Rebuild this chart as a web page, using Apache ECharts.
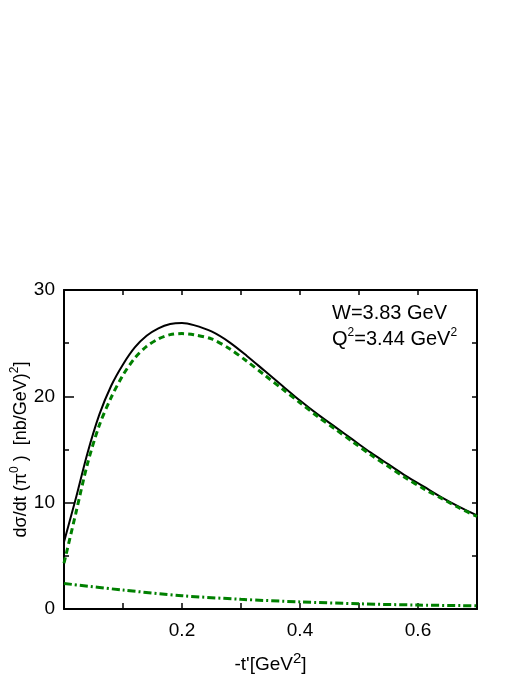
<!DOCTYPE html>
<html>
<head>
<meta charset="utf-8">
<script src="https://cdn.jsdelivr.net/npm/echarts@6/dist/echarts.min.js"></script>
<style>
    html, body { margin: 0; padding: 0; background: #fff; }
    #main { width: 523px; height: 677px; }
</style>
</head>
<body>
<div id="main"></div>
<script>
    // -t' values and cross sections (nb/GeV^2)
    var totalT = [0, 0.02, 0.04, 0.06, 0.08, 0.10, 0.12, 0.14, 0.16, 0.18, 0.20, 0.22, 0.25, 0.28, 0.31, 0.34, 0.37, 0.40, 0.43, 0.46, 0.49, 0.52, 0.55, 0.58, 0.61, 0.64, 0.67, 0.70];
    var totalVal = [6.3, 10.4, 14.7, 18.3, 21.0, 23.0, 24.6, 25.7, 26.4, 26.8, 26.9, 26.7, 26.1, 25.1, 23.8, 22.4, 21.0, 19.6, 18.3, 17.1, 15.9, 14.7, 13.6, 12.5, 11.5, 10.5, 9.6, 8.8];

    var dashT = [0, 0.02, 0.04, 0.06, 0.08, 0.10, 0.12, 0.14, 0.16, 0.18, 0.20, 0.22, 0.25, 0.28, 0.31, 0.34, 0.37, 0.40, 0.43, 0.46, 0.49, 0.52, 0.55, 0.58, 0.61, 0.64, 0.67, 0.70];
    var dashVal = [4.3, 9.0, 13.7, 17.3, 19.9, 22.0, 23.6, 24.7, 25.4, 25.8, 25.9, 25.8, 25.4, 24.5, 23.3, 22.0, 20.7, 19.4, 18.1, 16.9, 15.7, 14.5, 13.4, 12.3, 11.3, 10.4, 9.5, 8.7];

    var dotT = [0, 0.1, 0.2, 0.3, 0.4, 0.5, 0.6, 0.7];
    var dotVal = [2.4, 1.78, 1.25, 0.91, 0.67, 0.49, 0.37, 0.3];

    var xLabels = ['0.2', '0.4', '0.6'];
    var yLabels = ['0', '10', '20', '30'];

    function pairs(xs, ys) {
        return xs.map(function (x, i) { return [x, ys[i]]; });
    }

    var font = 'Liberation Sans, Arial, sans-serif';
    var green = '#008000';
    var tickStyle = { color: '#000', width: 1.5 };

    var chart = echarts.init(document.getElementById('main'));

    var option = {
        animation: false,
        backgroundColor: '#fff',
        grid: { left: 64, top: 290, width: 413, height: 319, containLabel: false, outerBoundsMode: 'none' },
        xAxis: [{
            type: 'value', position: 'bottom', min: 0, max: 0.7, interval: 0.1,
            axisLine: { onZero: false, lineStyle: { color: '#000', width: 2 } },
            axisTick: { inside: true, length: 6, lineStyle: tickStyle },
            axisLabel: {
                fontFamily: font, fontSize: 19, color: '#000', margin: 12,
                formatter: function (v) {
                    var s = v.toFixed(1);
                    return xLabels.indexOf(s) >= 0 ? s : '';
                }
            },
            splitLine: { show: false },
            name: '{a|-t\'[GeV}{s|2}{a|]}',
            nameLocation: 'middle',
            nameGap: 42,
            nameMoveOverlap: false,
            nameTextStyle: {
                rich: {
                    a: { fontFamily: font, fontSize: 19, color: '#000' },
                    s: { fontFamily: font, fontSize: 15, color: '#000', padding: [0, 0, 12, 0] }
                }
            }
        }, {
            type: 'value', position: 'top', min: 0, max: 0.7, interval: 0.1,
            axisLine: { onZero: false, lineStyle: { color: '#000', width: 2 } },
            axisTick: { inside: true, length: 5, lineStyle: tickStyle },
            axisLabel: { show: false },
            splitLine: { show: false }
        }],
        yAxis: [{
            type: 'value', position: 'left', min: 0, max: 30, interval: 10,
            axisLine: { onZero: false, lineStyle: { color: '#000', width: 2 } },
            axisTick: { inside: true, length: 10, lineStyle: tickStyle },
            minorTick: { show: true, splitNumber: 2, length: 5, lineStyle: tickStyle },
            axisLabel: {
                fontFamily: font, fontSize: 19, color: '#000', margin: 9,
                formatter: function (v) {
                    var s = String(Math.round(v));
                    return yLabels.indexOf(s) >= 0 ? s : '';
                }
            },
            splitLine: { show: false },
            name: '{a|d\u03c3/dt (\u03c0}{s|0}{a| )  [nb/GeV)}{s|2}{a|]}',
            nameLocation: 'middle',
            nameGap: 30,
            nameMoveOverlap: false,
            nameTextStyle: {
                rich: {
                    a: { fontFamily: font, fontSize: 18, color: '#000' },
                    s: { fontFamily: font, fontSize: 12, color: '#000', padding: [0, 0, 13, 0] }
                }
            }
        }, {
            type: 'value', position: 'right', min: 0, max: 30, interval: 5,
            axisLine: { onZero: false, lineStyle: { color: '#000', width: 2 } },
            axisTick: { inside: true, length: 5, lineStyle: tickStyle },
            axisLabel: { show: false },
            splitLine: { show: false }
        }],
        graphic: [{
            type: 'text', left: 332, top: 303,
            style: { text: 'W=3.83 GeV', font: '20px ' + font, fill: '#000' }
        }, {
            type: 'text', left: 332, top: 327,
            style: {
                text: '{a|Q}{s|2}{a|=3.44 GeV}{s|2}',
                rich: {
                    a: { fontFamily: font, fontSize: 20, fill: '#000' },
                    s: { fontFamily: font, fontSize: 12, fill: '#000', padding: [0, 0, 12, 0] }
                }
            }
        }],
        series: [{
            type: 'line', xAxisIndex: 0, yAxisIndex: 0,
            data: pairs(totalT, totalVal), smooth: 0.3, showSymbol: false,
            lineStyle: { color: '#000', width: 2 }
        }, {
            type: 'line', xAxisIndex: 0, yAxisIndex: 0,
            data: pairs(dashT, dashVal), smooth: 0.3, showSymbol: false,
            lineStyle: { color: green, width: 3, type: [6, 4] }
        }, {
            type: 'line', xAxisIndex: 0, yAxisIndex: 0,
            data: pairs(dotT, dotVal), smooth: 0.3, showSymbol: false,
            lineStyle: { color: green, width: 3, type: [8, 3, 2, 3] }
        }]
    };

    chart.setOption(option);
</script>
</body>
</html>
